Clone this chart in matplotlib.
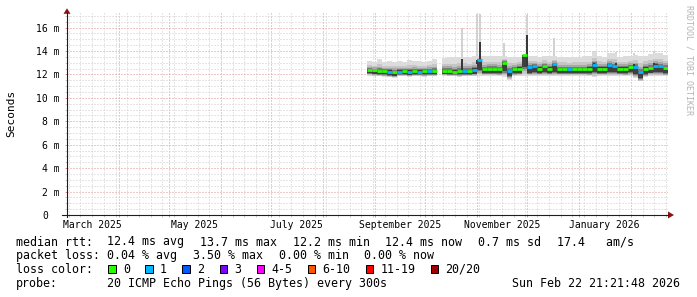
import numpy as np
import pandas as pd
import matplotlib
matplotlib.use("Agg")
import matplotlib.pyplot as plt
import matplotlib.dates as mdates
import matplotlib.transforms as mtransforms
from matplotlib.patches import Rectangle, Polygon
from matplotlib.lines import Line2D

# graph time frame
t_start = pd.Timestamp("2025-03-01 00:00:00")
t_end = pd.Timestamp("2026-02-22 21:21:48")

# smoke data in 3-day bins starting at data_start (values in ms)
data_start = pd.Timestamp("2025-08-27")
bin_days = 3
median = [12.40, 12.35, 12.30, 12.30, 12.25, 12.20, 12.25, 12.30, 12.25, 12.30,
          12.25, 12.30, 12.30, 12.30, np.nan, 12.30, 12.30, 12.25, 12.30, 12.30,
          12.30, 12.40, 13.20, 12.45, 12.45, 12.45, 12.45, 13.00, 12.30, 12.45,
          12.50, 13.70, 12.60, 12.70, 12.50, 12.70, 12.50, 12.85, 12.45, 12.45,
          12.45, 12.45, 12.45, 12.45, 12.50, 12.80, 12.50, 12.50, 12.80, 12.70,
          12.50, 12.50, 12.60, 12.65, 12.20, 12.50, 12.55, 12.75, 12.70, 12.55]
smoke_lo = [11.90, 11.85, 11.85, 11.80, 11.75, 11.70, 11.85, 11.85, 11.80, 11.85,
            11.85, 11.80, 11.85, 11.85, np.nan, 11.90, 11.85, 11.85, 11.80, 11.85,
            11.85, 11.85, 11.90, 11.90, 11.90, 11.90, 11.85, 11.80, 11.55, 11.85,
            11.90, 11.90, 11.85, 11.85, 11.90, 11.85, 11.90, 11.85, 11.90, 11.90,
            11.90, 11.90, 11.90, 11.90, 11.85, 11.80, 11.90, 11.90, 11.85, 11.85,
            11.90, 11.85, 11.90, 11.70, 11.40, 11.75, 11.90, 11.85, 11.85, 11.85]
smoke_hi = [13.15, 13.10, 13.35, 13.10, 13.15, 13.10, 13.15, 13.10, 13.20, 13.15,
            13.15, 13.10, 13.15, 13.35, np.nan, 13.40, 13.45, 13.45, 13.50, 13.50,
            13.45, 13.60, 13.60, 13.55, 13.60, 13.60, 13.55, 13.60, 13.50, 13.45,
            13.50, 13.70, 13.60, 13.55, 13.50, 13.60, 13.55, 13.60, 13.50, 13.50,
            13.45, 13.50, 13.50, 13.55, 13.55, 13.90, 13.60, 13.50, 13.80, 13.85,
            13.50, 13.55, 13.60, 13.70, 13.55, 13.60, 13.75, 13.80, 13.80, 13.65]
loss = [0, 0, 0, 0, 1, 0, 1, 0, 1, 0,
        1, 0, 1, 0, 0, 0, 0, 0, 0, 1,
        0, 1, 1, 0, 0, 0, 0, 0, 1, 0,
        0, 0, 1, 1, 0, 0, 0, 1, 0, 0,
        1, 0, 0, 0, 0, 1, 0, 0, 1, 1,
        0, 0, 0, 1, 1, 0, 0, 1, 1, 0]

# single-day outliers
spike_dates = ["2025-10-23", "2025-11-01", "2025-11-03", "2025-11-17", "2025-12-01",
               "2025-12-17", "2026-01-10", "2026-01-23", "2026-02-03", "2026-02-15"]
spike_top = [16.0, 17.2, 17.2, 14.7, 17.1, 15.1, 14.0, 13.9, 13.8, 14.0]
spike_core = [13.3, 12.9, 14.8, 13.1, 15.4, 13.0, 13.0, 13.0, 12.9, 13.0]

loss_labels = ["0", "1", "2", "3", "4-5", "6-10", "11-19", "20/20"]
loss_colors = ["#26ff00", "#00b8ff", "#0059ff", "#7e00ff",
               "#ff00ff", "#ff5500", "#ff0000", "#a10000"]

y_ticks = [0, 2, 4, 6, 8, 10, 12, 14, 16]
y_labels = ["0", "2 m", "4 m", "6 m", "8 m", "10 m", "12 m", "14 m", "16 m"]
x_label_dates = ["2025-03-16", "2025-05-16", "2025-07-16",
                 "2025-09-16", "2025-11-16", "2026-01-16"]
x_labels = ["March 2025", "May 2025", "July 2025",
            "September 2025", "November 2025", "January 2026"]

rtt_items = ["12.4 ms avg", "13.7 ms max", "12.2 ms min", "12.4 ms now",
             "0.7 ms sd", "17.4   am/s"]
ploss_items = ["0.04 % avg", "3.50 % max", "0.00 % min", "0.00 % now"]
probe_text = "20 ICMP Echo Pings (56 Bytes) every 300s"
stamp = "Sun Feb 22 21:21:48 2026"

# ---- style
W, H, DPI = 697, 297, 100
GRID = "#cccccc"
MGRID = "#e39393"
AXIS = "#1e1e1e"
ARROW = "#8b1010"
SMOKE = ["#dcdcdc", "#c6c6c6", "#a8a8a8", "#7a7a7a", "#404040"]
UP_FRAC = [1.0, 0.55, 0.35, 0.2, 0.1]
DOWN_FRAC = [1.0, 0.9, 0.8, 0.7, 0.6]
DOTS = (0, (1, 2))
MONO = "DejaVu Sans Mono"
plt.rcParams["font.family"] = [MONO]


def fx(px):
    return px / W


def fy(py):
    return 1 - py / H


fig = plt.figure(figsize=(W / DPI, H / DPI), dpi=DPI, facecolor="white")
X0, X1, Y0, YT = 67, 667.5, 215, 13.3
ax = fig.add_axes([fx(X0), fy(Y0), (X1 - X0) / W, (Y0 - YT) / H])
ax.set_facecolor("white")
ax.set_xlim(mdates.date2num(t_start), mdates.date2num(t_end))
ax.set_ylim(0, 17.22)
for s in ax.spines.values():
    s.set_visible(False)

# grid: weeks (Sunday) minor, month starts major
months = pd.date_range("2025-04-01", t_end, freq="MS")
weeks = [d for d in pd.date_range("2025-03-02", t_end, freq="7D") if d.day != 1]
ax.set_xticks(mdates.date2num(months))
ax.set_xticks(mdates.date2num(weeks), minor=True)
ax.set_yticks(y_ticks)
ax.set_yticks([v for v in np.arange(0.5, 17.1, 0.5) if v % 2], minor=True)
ax.tick_params(which="both", labelbottom=False, labelleft=False,
               length=1.44, width=0.72, direction="out")
ax.tick_params(which="major", color=MGRID)
ax.tick_params(which="minor", color=GRID)
ax.grid(True, which="minor", color=GRID, lw=0.72, ls=DOTS)
ax.grid(True, which="major", color=MGRID, lw=0.72, ls=DOTS)
ax.set_axisbelow(True)

# smoke
med = np.array(median)
lo = np.array(smoke_lo)
hi = np.array(smoke_hi)
left = mdates.date2num(data_start) + bin_days * np.arange(len(med))
valid = np.flatnonzero(~np.isnan(med))
runs = np.split(valid, np.flatnonzero(np.diff(valid) > 1) + 1)

# spikes, light part under the smoke, dark core above it
sp_t = mdates.date2num(pd.to_datetime(spike_dates))
sp_base = med[((sp_t - left[0]) // bin_days).astype(int)]
ax.bar(sp_t, np.array(spike_top) - sp_base, width=1.4, bottom=sp_base,
       color="#d2d2d2", lw=0, zorder=1)

for fu, fd, c in zip(UP_FRAC, DOWN_FRAC, SMOKE):
    lower = med - fd * (med - lo)
    upper = med + fu * (hi - med)
    for r in runs:
        xs = np.repeat(np.append(left[r], left[r[-1]] + bin_days), 2)[1:-1]
        ax.fill_between(xs, np.repeat(lower[r], 2), np.repeat(upper[r], 2),
                        color=c, lw=0, zorder=2)

ax.bar(sp_t, np.array(spike_core) - sp_base, width=1.4, bottom=sp_base,
       color="#383838", lw=0, zorder=3)

# median coloured by loss
ax.hlines(med[valid], left[valid], left[valid] + bin_days,
          colors=[loss_colors[loss[i]] for i in valid], lw=2.0, zorder=5)

# tick labels
xtr = ax.get_xaxis_transform()
for d, s in zip(x_label_dates, x_labels):
    ax.text(mdates.date2num(pd.Timestamp(d)), -13 / (Y0 - YT), s, transform=xtr,
            ha="center", va="baseline", fontsize=7)
for v, s in zip(y_ticks, y_labels):
    off = -7 if s.endswith("m") else -7 - 2 * 5.85
    tr = mtransforms.offset_copy(ax.get_yaxis_transform(), fig=fig, x=off, y=0, units="dots")
    ax.text(0, v, s, transform=tr, ha="right", va="center_baseline", fontsize=7)

# axes and arrows
fig.add_artist(Line2D([fx(62), fx(668)], [fy(Y0), fy(Y0)], color=AXIS, lw=0.8))
fig.add_artist(Line2D([fx(X0), fx(X0)], [fy(217), fy(13)], color=AXIS, lw=0.8))
fig.add_artist(Polygon([[fx(63.5), fy(13.8)], [fx(70.5), fy(13.8)], [fx(67), fy(8.3)]],
                       closed=True, transform=fig.transFigure, color=ARROW, lw=0))
fig.add_artist(Polygon([[fx(668), fy(211.5)], [fx(668), fy(218.5)], [fx(674), fy(215)]],
                       closed=True, transform=fig.transFigure, color=ARROW, lw=0))

fig.text(fx(11), fy(113.5), "Seconds", rotation=90, ha="center", va="center", fontsize=8)
fig.text(fx(688.5), fy(5), "RRDTOOL / TOBI OETIKER", rotation=270, ha="center",
         va="top", fontsize=6, color="#b4b4b4")

# legend
FS, CW, GLUE, COL = 8.35, 6.98, 15.9, 107.3
rows = [245.5, 259.2, 272.9, 286.6]


def legend_row(label, items, base):
    fig.text(fx(16), fy(base), label, ha="left", va="baseline", fontsize=FS)
    x = COL
    for s in items:
        fig.text(fx(x), fy(base), s, ha="left", va="baseline", fontsize=FS)
        x += len(s) * CW + GLUE


legend_row("median rtt:", rtt_items, rows[0])
legend_row("packet loss:", ploss_items, rows[1])
fig.text(fx(16), fy(rows[2]), "loss color:", ha="left", va="baseline", fontsize=FS)
x = COL
for s, c in zip(loss_labels, loss_colors):
    fig.add_artist(Rectangle((fx(x + 1), fy(rows[2])), 7.5 / W, 8 / H, transform=fig.transFigure,
                             facecolor=c, edgecolor="black", lw=0.72))
    fig.text(fx(x + 15.5), fy(rows[2]), s, ha="left", va="baseline", fontsize=FS)
    x += 14.2 + len(s) * CW + GLUE
fig.text(fx(16), fy(rows[3]), "probe:", ha="left", va="baseline", fontsize=FS)
fig.text(fx(COL), fy(rows[3]), probe_text, ha="left", va="baseline", fontsize=FS)
fig.text(fx(680.5), fy(rows[3]), stamp, ha="right", va="baseline", fontsize=FS)

fig.savefig("out.png", dpi=DPI, facecolor="white")
plt.close(fig)
